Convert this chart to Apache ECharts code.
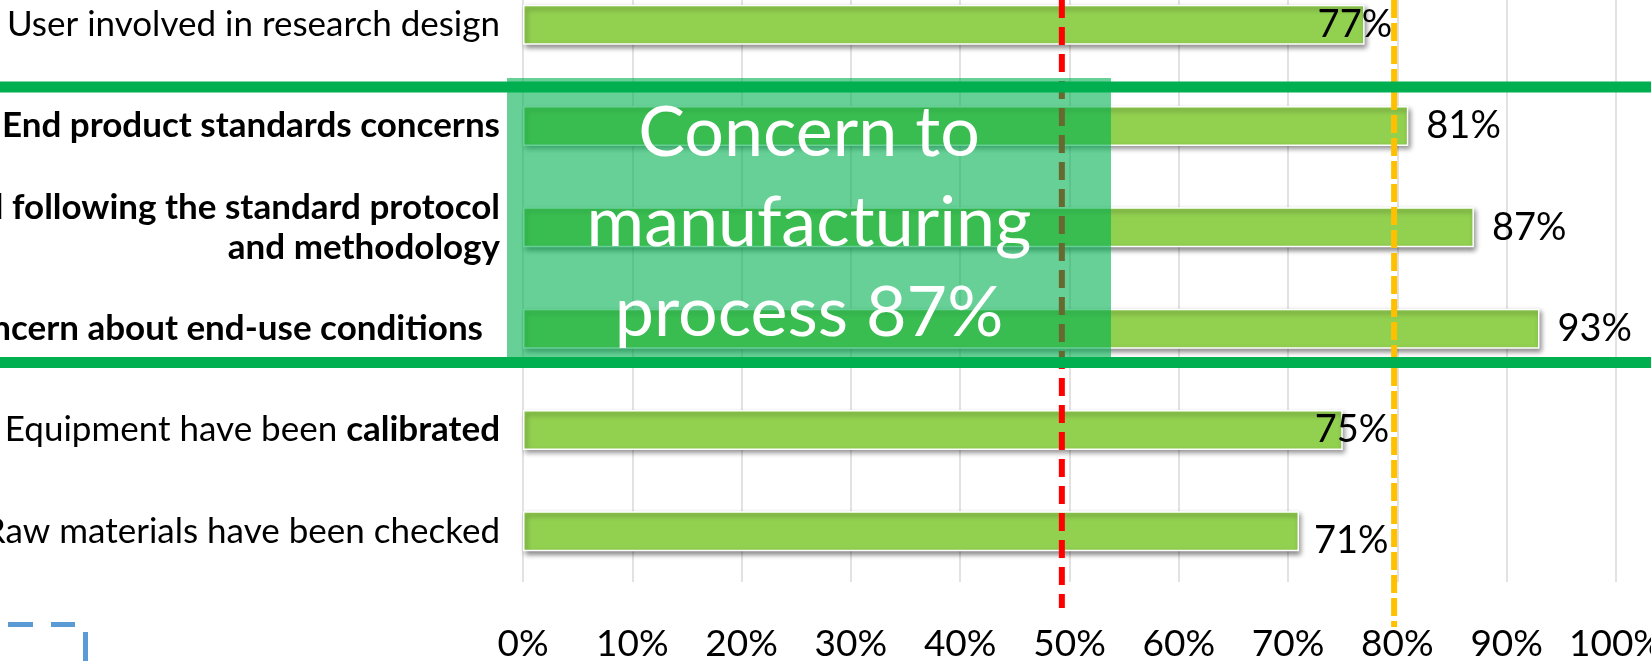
<!DOCTYPE html>
<html>
<head>
<meta charset="utf-8">
<script src="https://cdn.jsdelivr.net/npm/echarts@6/dist/echarts.min.js"></script>
<style>
  html, body { margin: 0; padding: 0; background: #fff; }
  #chart { width: 1651px; height: 661px; }
</style>
</head>
<body>
<div id="chart"></div>
<script>
// ---- data ----
const categories = [
  'User involved in research design',
  'End product standards concerns',
  'Conducted following the standard protocol\nand methodology',
  'Concern about end-use conditions',
  'Equipment have been calibrated',
  'Raw materials have been checked'
];
const boldCategories = [
  'End product standards concerns',
  'Conducted following the standard protocol\nand methodology',
  'Concern about end-use conditions'
];
const values = [77, 81, 87, 93, 75, 71];
const tickLabels = ['0%', '10%', '20%', '30%', '40%', '50%', '60%', '70%', '80%', '90%', '100%'];
const redLineValue = 49.3;
const orangeLineValue = 79.7;
const boxText = ['Concern to', 'manufacturing', 'process 87%'];

const FONT = 'Lato';
const chart = echarts.init(document.getElementById('chart'), null, { renderer: 'canvas' });

const labelTweaks = { 0: [-65, 0], 4: [-46, 0], 5: [-3, 9] };

const yData = categories.map((c, i) => {
  const item = { value: c };
  if (boldCategories.includes(c)) {
    item.textStyle = { fontWeight: 'bold' };
    if (c.indexOf('end-use') >= 0) item.textStyle.padding = [0, 17, 0, 0];
  }
  return item;
});

const barData = values.map((v, i) => {
  const d = { value: v };
  if (labelTweaks[i]) d.label = { offset: labelTweaks[i] };
  return d;
});

const option = {
  animation: false,
  backgroundColor: '#ffffff',
  grid: { left: 523, right: 35, top: -26, height: 608, containLabel: false, outerBoundsMode: 'none' },
  xAxis: {
    type: 'value', min: 0, max: 100, interval: 10,
    axisLine: { show: false }, axisTick: { show: false },
    splitLine: { show: true, lineStyle: { color: '#D9D9D9', width: 1.5 } },
    axisLabel: {
      margin: 44, fontFamily: FONT, fontSize: 37, color: '#000',
      formatter: (v) => tickLabels[Math.round(v / 10)]
    }
  },
  yAxis: {
    type: 'category', inverse: true, data: yData,
    axisLine: { show: false }, axisTick: { show: false },
    axisLabel: {
      margin: 23, fontFamily: FONT, fontSize: 35, color: '#000', lineHeight: 40,
      align: 'right',
      formatter: (v) => v.replace('calibrated', '{b|calibrated}'),
      rich: { b: { fontFamily: FONT, fontSize: 35, fontWeight: 'bold', color: '#000' } }
    }
  },
  series: [{
    type: 'bar', data: barData, barWidth: 40, z: 2,
    itemStyle: {
      color: '#92D050', borderColor: '#ffffff', borderWidth: 1.5,
      shadowColor: 'rgba(0,0,0,0.45)', shadowBlur: 5, shadowOffsetX: 2, shadowOffsetY: 3
    },
    label: {
      show: true, position: 'right', distance: 18,
      fontFamily: FONT, fontSize: 38, color: '#000',
      formatter: (p) => p.value + '%'
    }
  }]
};
chart.setOption(option);

const redX = chart.convertToPixel({ xAxisIndex: 0 }, redLineValue);
const orangeX = chart.convertToPixel({ xAxisIndex: 0 }, orangeLineValue);

chart.setOption({
  graphic: [
    { type: 'line', z: 5, shape: { x1: redX, y1: 0, x2: redX, y2: 608 },
      style: { stroke: '#FF0000', lineWidth: 6, lineDash: [18, 9] } },
    { type: 'rect', z: 6, shape: { x: 507, y: 78, width: 604, height: 290 },
      style: { fill: 'rgba(0,176,80,0.6)' } },
    { type: 'line', z: 7, shape: { x1: orangeX, y1: 0, x2: orangeX, y2: 627 },
      style: { stroke: '#FFC000', lineWidth: 6, lineDash: [18, 5] } },
    { type: 'line', z: 8, shape: { x1: 0, y1: 87, x2: 1651, y2: 87 },
      style: { stroke: '#00B050', lineWidth: 11 } },
    { type: 'line', z: 8, shape: { x1: 0, y1: 362.5, x2: 1651, y2: 362.5 },
      style: { stroke: '#00B050', lineWidth: 11 } },
    { type: 'text', z: 9, x: 809, y: 223,
      style: { text: boxText.join('\n'), fill: '#ffffff', fontFamily: FONT, fontSize: 70,
        lineHeight: 90, align: 'center', verticalAlign: 'middle' } },
    // decorative blue dashed corner (bottom-left)
    { type: 'line', z: 5, shape: { x1: 8, y1: 624.5, x2: 33, y2: 624.5 },
      style: { stroke: '#5B9BD5', lineWidth: 5 } },
    { type: 'line', z: 5, shape: { x1: 51, y1: 624.5, x2: 75, y2: 624.5 },
      style: { stroke: '#5B9BD5', lineWidth: 5 } },
    { type: 'line', z: 5, shape: { x1: 85.5, y1: 632, x2: 85.5, y2: 661 },
      style: { stroke: '#5B9BD5', lineWidth: 5 } }
  ]
});
</script>
</body>
</html>
